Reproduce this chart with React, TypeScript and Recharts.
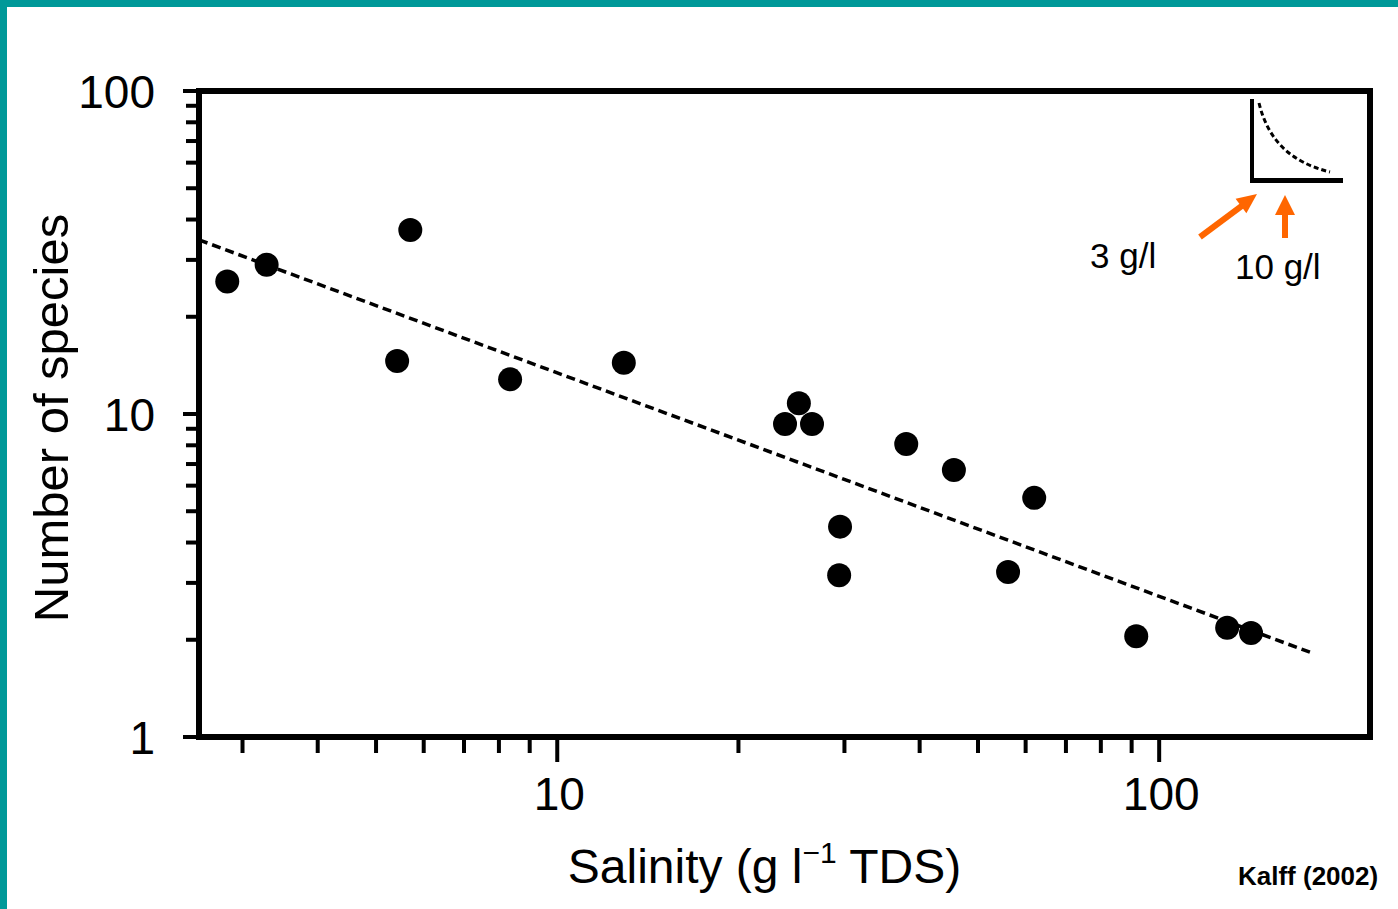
import React from "react";
import { ScatterChart, Scatter, XAxis, YAxis, ReferenceArea, Label } from "recharts";

// ---- data ----
const salinity = [2.83, 3.29, 5.7, 5.42, 8.35, 12.9, 25.2, 23.9, 26.5, 29.5, 29.4, 38.0, 45.6, 62.0, 56.1, 91.6, 129.7, 142.1];
const species = [25.7, 29.0, 37.1, 14.6, 12.8, 14.4, 10.8, 9.31, 9.31, 4.48, 3.17, 8.08, 6.71, 5.5, 3.24, 2.05, 2.18, 2.1];
const trendSalinity = [2.54, 178];
const trendSpecies = [34.6, 1.83];
const xDomain = [2.54, 224];
const yDomain = [1, 100];
const xTicks = [3, 4, 5, 6, 7, 8, 9, 10, 20, 30, 40, 50, 60, 70, 80, 90, 100];
const yTicks = [1, 2, 3, 4, 5, 6, 7, 8, 9, 10, 20, 30, 40, 50, 60, 70, 80, 90, 100];
const majorTicks = [1, 10, 100];
const xTitle = ["Salinity (g l", "\u22121", " TDS)"];
const yTitle = "Number of species";
const inset = { left: "3 g/l", right: "10 g/l" };
const credit = "Kalff (2002)";

const points = salinity.map((s, i) => ({ x: s, y: species[i] }));
const trend = trendSalinity.map((s, i) => ({ x: s, y: trendSpecies[i] }));

const FONT = "'Liberation Sans', Arial, sans-serif";
const ORANGE = "#FF6600";
const TEAL = "#009999";

const YTick = (props: any) => {
  const { x, y, payload } = props;
  const v = payload.value;
  const major = majorTicks.includes(v);
  return (
    <g>
      <line x1={x} x2={x - (major ? 16 : 13)} y1={y} y2={y} stroke="#000" strokeWidth={4} />
      {major && (
        <text x={x - 44} y={y + 17} textAnchor="end" fontFamily={FONT} fontSize={46} fill="#000">
          {v}
        </text>
      )}
    </g>
  );
};

const XTick = (props: any) => {
  const { x, y, payload } = props;
  const v = payload.value;
  const major = majorTicks.includes(v);
  return (
    <g>
      <line x1={x} x2={x} y1={y} y2={y + (major ? 25 : 16)} stroke="#000" strokeWidth={4} />
      {major && (
        <text x={x + 2} y={y + 73} textAnchor="middle" fontFamily={FONT} fontSize={46} fill="#000">
          {v}
        </text>
      )}
    </g>
  );
};

const XTitle = (props: any) => {
  const vb = props.viewBox || { x: 199, y: 737, width: 1171, height: 172 };
  const cx = vb.x + vb.width / 2 - 20;
  return (
    <text x={cx} y={vb.y + 146} textAnchor="middle" fontFamily={FONT} fontSize={48} fill="#000">
      {xTitle[0]}
      <tspan fontSize={30} dy={-20}>{xTitle[1]}</tspan>
      <tspan dy={20}>{xTitle[2]}</tspan>
    </text>
  );
};

const YTitle = (props: any) => {
  const vb = props.viewBox || { x: 0, y: 91, width: 199, height: 646 };
  const cx = 68;
  const cy = vb.y + vb.height / 2 + 4;
  return (
    <text
      x={cx}
      y={cy}
      textAnchor="middle"
      transform={`rotate(-90, ${cx}, ${cy})`}
      fontFamily={FONT}
      fontSize={49}
      fill="#000"
    >
      {yTitle}
    </text>
  );
};

const Dot = (props: any) => <circle cx={props.cx} cy={props.cy} r={12} fill="#000" />;
const NoDot = () => <g />;

export default function App() {
  return (
    <div style={{ position: "absolute", left: 0, top: 0, width: 1398, height: 909, background: "#fff" }}>
      <ScatterChart width={1398} height={909} margin={{ top: 91, right: 28, bottom: 0, left: 0 }}>
        <XAxis
          dataKey="x"
          type="number"
          scale="log"
          domain={xDomain}
          allowDataOverflow
          ticks={xTicks}
          height={172}
          axisLine={false}
          tickLine={false}
          tickSize={0}
          tickMargin={0}
          tick={<XTick />}
          interval={0}
        >
          <Label content={<XTitle />} />
        </XAxis>
        <YAxis
          dataKey="y"
          type="number"
          scale="log"
          domain={yDomain}
          allowDataOverflow
          ticks={yTicks}
          width={199}
          axisLine={false}
          tickLine={false}
          tickSize={0}
          tickMargin={0}
          tick={<YTick />}
          interval={0}
        >
          <Label content={<YTitle />} />
        </YAxis>
        <ReferenceArea
          x1={xDomain[0]}
          x2={xDomain[1]}
          y1={yDomain[0]}
          y2={yDomain[1]}
          fill="none"
          fillOpacity={0}
          stroke="#000"
          strokeWidth={6}
          ifOverflow="visible"
        />
        <Scatter
          data={trend}
          line={{ stroke: "#000", strokeWidth: 3.5, strokeDasharray: "9 5" }}
          shape={<NoDot />}
          isAnimationActive={false}
        />
        <Scatter data={points} fill="#000" shape={<Dot />} isAnimationActive={false} />
      </ScatterChart>
      <svg
        width={1398}
        height={909}
        style={{ position: "absolute", left: 0, top: 0, pointerEvents: "none" }}
      >
        <rect x={0} y={0} width={1398} height={7} fill={TEAL} />
        <rect x={0} y={0} width={7} height={909} fill={TEAL} />
        {/* inset sketch */}
        <line x1={1252} y1={99} x2={1252} y2={182} stroke="#000" strokeWidth={4} />
        <line x1={1250} y1={180.5} x2={1343} y2={180.5} stroke="#000" strokeWidth={5} />
        <path d="M1259,103 C1268,140 1290,162 1330,172" fill="none" stroke="#000" strokeWidth={3} strokeDasharray="5 3" />
        {/* arrows */}
        <line x1={1200} y1={237} x2={1243} y2={205} stroke={ORANGE} strokeWidth={6} />
        <polygon points="1257,194 1246.4,213.2 1235.6,198.8" fill={ORANGE} />
        <line x1={1285} y1={238} x2={1285} y2={212} stroke={ORANGE} strokeWidth={6} />
        <polygon points="1285,195 1295,215 1275,215" fill={ORANGE} />
        <text x={1090} y={268} fontFamily={FONT} fontSize={35} fill="#000">{inset.left}</text>
        <text x={1235} y={279} fontFamily={FONT} fontSize={35} fill="#000">{inset.right}</text>
        <text x={1238} y={885} fontFamily={FONT} fontSize={26} fontWeight="bold" fill="#000">{credit}</text>
      </svg>
    </div>
  );
}
